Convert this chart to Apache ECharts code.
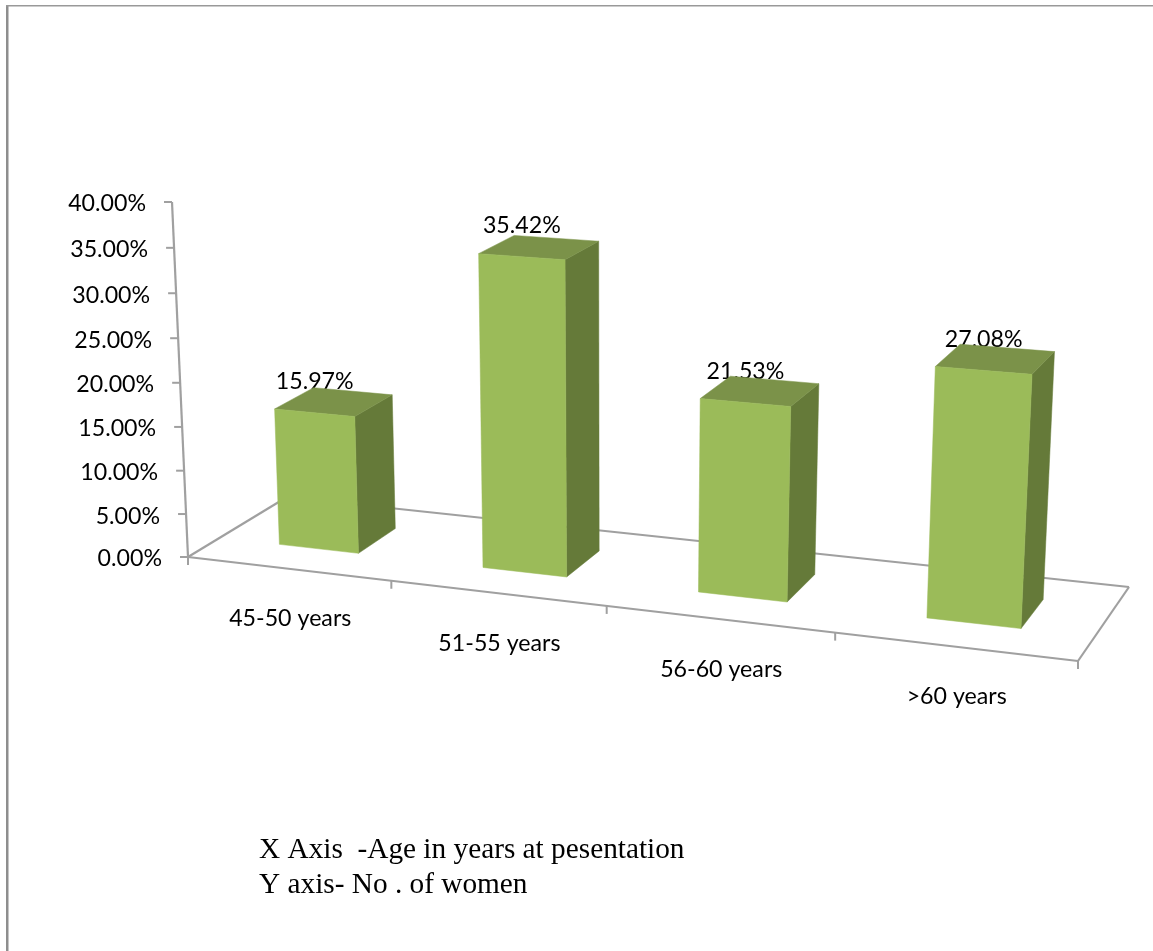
<!DOCTYPE html>
<html>
<head>
<meta charset="utf-8">
<style>html,body{margin:0;padding:0;background:#fff}#chart{width:1153px;height:951px}</style>
<script src="https://cdn.jsdelivr.net/npm/echarts@6/dist/echarts.min.js"></script>
</head>
<body>
<div id="chart"></div>
<script>
// Chart content
const categories = ['45-50 years', '51-55 years', '56-60 years', '>60 years'];
const shares = [15.97, 35.42, 21.53, 27.08];
const valueTicks = [0, 5, 10, 15, 20, 25, 30, 35, 40];
const notes = ['X Axis  -Age in years at pesentation', 'Y axis- No . of women'];

// Perspective camera: where the corners of the plot box land on the page
const floorFrontLeft = [188, 557], floorFrontRight = [1078, 661];
const floorBackRight = [1129, 587], floorBackLeft = [287, 497];
const axisTop = [172, 202];
const verticalConvergence = -0.03623;

// Bar footprint inside its category band and inside the floor's depth
const barWidthShare = 0.395, depthFront = 0.31, depthBack = 0.71;
// Bars stand further from the camera than the value axis, so they rise a little less
const barRiseScale = 0.987;

const palette = { front: '#9BBB59', side: '#657A39', top: '#7B9249', axis: '#A0A0A0', text: '#000000' };
const labelFont = '23.2px Lato';

// Square-to-quad homography for the floor, extended with the vertical direction
function buildCamera() {
  const [x0, y0] = floorFrontLeft, [x1, y1] = floorFrontRight, [x2, y2] = floorBackRight, [x3, y3] = floorBackLeft;
  const dx1 = x1 - x2, dx2 = x3 - x2, sx = x0 - x1 + x2 - x3;
  const dy1 = y1 - y2, dy2 = y3 - y2, sy = y0 - y1 + y2 - y3;
  const den = dx1 * dy2 - dx2 * dy1;
  const g = (sx * dy2 - dx2 * sy) / den, h = (dx1 * sy - sx * dy1) / den;
  const a = x1 - x0 + g * x1, b = x3 - x0 + h * x3;
  const d = y1 - y0 + g * y1, e = y3 - y0 + h * y3;
  const s = verticalConvergence;
  const bx = axisTop[0] * (1 + s) - x0, by = axisTop[1] * (1 + s) - y0;
  // u: along the categories, t: up the value axis, w: into the depth (all 0..1)
  return (u, t, w) => {
    const q = g * u + h * w + 1 + s * t;
    return [(a * u + b * w + x0 + bx * t) / q, (d * u + e * w + y0 + by * t) / q];
  };
}
const project3d = buildCamera();

// Takes a point from the hidden cartesian scales to the page through the camera
function projector(api, rise) {
  const W = api.getWidth(), H = api.getHeight();
  return (px, py, w) => project3d(px / W, (1 - py / H) * rise, w);
}

function line(p, q, width) {
  return {
    type: 'line',
    shape: { x1: p[0], y1: p[1], x2: q[0], y2: q[1] },
    style: { stroke: palette.axis, lineWidth: width }
  };
}
function face(points, fill) {
  return { type: 'polygon', shape: { points }, style: { fill, stroke: fill, lineWidth: 0.5 } };
}
function text(pos, content, align) {
  return {
    type: 'text',
    style: {
      x: pos[0], y: pos[1], text: content, font: labelFont, fill: palette.text,
      textAlign: align, textVerticalAlign: 'middle'
    }
  };
}

// Floor outline, both axes, their ticks and tick labels
function renderFrame(params, api) {
  const proj = projector(api, 1);
  const band = api.size([1, 0])[0];
  const leftEdge = api.coord([0, 0])[0] - band / 2;
  const floorY = api.coord([0, 0])[1];
  const children = [];
  const corner = (i, w) => proj(leftEdge + i * band, floorY, w);

  children.push(line(corner(0, 1), corner(categories.length, 1), 2.2));
  children.push(line(corner(0, 0), corner(0, 1), 2.2));
  children.push(line(corner(categories.length, 0), corner(categories.length, 1), 2.2));
  children.push(line(corner(0, 0), corner(categories.length, 0), 2.2));

  categories.forEach((name, i) => {
    const c = proj(api.coord([i, 0])[0], floorY, 0);
    children.push(text([c[0] + 2, c[1] + 50], name, 'center'));
  });
  for (let i = 0; i <= categories.length; i++) {
    const p = corner(i, 0);
    children.push(line(p, [p[0], p[1] + 8], 2));
  }

  const axisBottom = corner(0, 0);
  const axisEnd = proj(leftEdge, api.coord([0, valueTicks[valueTicks.length - 1]])[1], 0);
  children.push(line(axisBottom, axisEnd, 2.2));
  valueTicks.forEach((v) => {
    const p = proj(leftEdge, api.coord([0, v])[1], 0);
    children.push(line([p[0] - 8, p[1]], p, 2));
    children.push(text([p[0] - 26, p[1] + 2], v.toFixed(2) + '%', 'right'));
  });
  return { type: 'group', children };
}

// One extruded bar with its value label sitting behind the top face
function renderBar(params, api) {
  const proj = projector(api, barRiseScale);
  const cx = api.coord([api.value(0), 0])[0];
  const half = api.size([1, 0])[0] * barWidthShare / 2;
  const base = api.coord([api.value(0), 0])[1];
  const top = api.coord([api.value(0), api.value(1)])[1];
  const L = cx - half, R = cx + half;

  const fl = proj(L, top, depthFront), fr = proj(R, top, depthFront);
  const bl = proj(L, top, depthBack), br = proj(R, top, depthBack);
  const flb = proj(L, base, depthFront), frb = proj(R, base, depthFront), brb = proj(R, base, depthBack);
  const anchor = [(fl[0] + fr[0]) / 2, (fl[1] + fr[1]) / 2 - 31];

  return {
    type: 'group',
    children: [
      text(anchor, api.value(1).toFixed(2) + '%', 'center'),
      face([fr, br, brb, frb], palette.side),
      face([fl, bl, br, fr], palette.top),
      face([fl, fr, frb, flb], palette.front)
    ]
  };
}

const chart = echarts.init(document.getElementById('chart'), null, { renderer: 'canvas' });
chart.setOption({
  animation: false,
  backgroundColor: '#ffffff',
  grid: { left: 0, right: 0, top: 0, bottom: 0 },
  xAxis: { type: 'category', data: categories, show: false },
  yAxis: { type: 'value', min: 0, max: 40, interval: 5, show: false },
  series: [
    {
      type: 'custom',
      name: 'frame',
      clip: false,
      silent: true,
      z: 1,
      data: [[0, 0]],
      renderItem: renderFrame
    },
    {
      type: 'custom',
      name: 'Share of women',
      clip: false,
      z: 2,
      encode: { x: 0, y: 1 },
      data: shares.map((v, i) => [i, v]),
      renderItem: renderBar
    }
  ],
  graphic: [
    { type: 'rect', silent: true, shape: { x: 6, y: 5, width: 2.5, height: 946 }, style: { fill: '#8E8E8E' } },
    { type: 'rect', silent: true, shape: { x: 6, y: 5, width: 1147, height: 1.5 }, style: { fill: '#999999' } },
    { type: 'text', silent: true, style: { x: 259, y: 850.5, text: notes[0], font: '29.3px "Liberation Serif"', fill: '#000', textVerticalAlign: 'middle' } },
    { type: 'text', silent: true, style: { x: 259, y: 885.5, text: notes[1], font: '29.3px "Liberation Serif"', fill: '#000', textVerticalAlign: 'middle' } }
  ]
});
</script>
</body>
</html>
